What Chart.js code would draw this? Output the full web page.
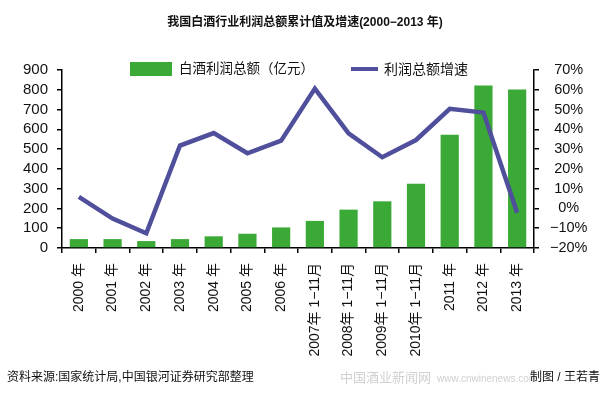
<!DOCTYPE html>
<html>
<head>
<meta charset="utf-8">
<script src="https://cdn.jsdelivr.net/npm/chart.js@4.4.1/dist/chart.umd.min.js"></script>
<style>
  html, body { margin: 0; padding: 0; background: #fff; }
  #wrap { position: relative; width: 600px; height: 398px; font-family: "Liberation Sans", "Noto Sans CJK SC", sans-serif; color: #111; }
  #chart { position: absolute; left: 0; top: 0; }
  .txt { position: absolute; white-space: nowrap; line-height: 1; }
  #title { left: 0; width: 610px; top: 16px; text-align: center; font-size: 12px; font-weight: bold; }
  .box { position: absolute; left: 130px; top: 62px; width: 42px; height: 14px; background: #3aa936; }
  .seg { position: absolute; left: 351px; top: 67px; width: 27px; height: 4px; background: #504f9c; }
  #lg1 { left: 179px; top: 62px; font-size: 13.5px; }
  #lg2 { left: 384px; top: 62px; font-size: 14px; }
  #src { left: 7px; top: 371px; font-size: 12px; }
  #author { left: 530px; top: 371px; font-size: 12px; }
  #mark { left: 340px; top: 371px; font-size: 13px; color: #d0d0d0; }
  #mark span { font-size: 10px; margin-left: 6px; }
</style>
</head>
<body>
<div id="wrap">
  <canvas id="chart" width="600" height="398"></canvas>
  <div class="txt" id="title">我国白酒行业利润总额累计值及增速(2000−2013 年)</div>
  <div class="box"></div>
  <div class="txt" id="lg1">白酒利润总额（亿元）</div>
  <div class="seg"></div>
  <div class="txt" id="lg2">利润总额增速</div>
  <div class="txt" id="mark">中国酒业新闻网<span>www.cnwinenews.com</span></div>
  <div class="txt" id="src">资料来源:国家统计局,中国银河证券研究部整理</div>
  <div class="txt" id="author">制图 / 王若青</div>
</div>
<script>
const categories = ['2000 年', '2001 年', '2002 年', '2003 年', '2004 年', '2005 年', '2006 年',
  '2007年 1−11月', '2008年 1−11月', '2009年 1−11月', '2010年 1−11月', '2011 年', '2012 年', '2013 年'];
// profit total, 100 million yuan
const profit = [45, 45, 35, 45, 59, 72, 104, 137, 194, 236, 325, 573, 821, 801];
// growth rate, %
const growth = [5.8, -5.1, -12.6, 31.8, 38.1, 27.9, 34.3, 60.6, 38, 25.9, 34.6, 50.4, 48.5, -2.2];

const leftTicks = { min: 0, max: 900, step: 100 };
const rightTicks = { min: -20, max: 70, step: 10 };

const numFont = '"Liberation Sans", "Noto Sans CJK SC", sans-serif';

function minus(v) {
  return v < 0 ? '−' + Math.abs(v) : String(v);
}

const ctx = document.getElementById('chart').getContext('2d');
new Chart(ctx, {
  data: {
    labels: categories,
    datasets: [
      {
        type: 'line',
        label: '利润总额增速',
        data: growth,
        yAxisID: 'y1',
        borderColor: '#504f9c',
        borderWidth: 4.5,
        pointRadius: 0,
        tension: 0,
        borderJoinStyle: 'miter',
        order: 0
      },
      {
        type: 'bar',
        label: '白酒利润总额（亿元）',
        data: profit,
        yAxisID: 'y',
        backgroundColor: '#3aa936',
        barPercentage: 0.54,
        categoryPercentage: 1,
        order: 1
      }
    ]
  },
  options: {
    responsive: false,
    animation: false,
    layout: { padding: { top: 70, left: 0, right: 0, bottom: 0 } },
    plugins: {
      legend: { display: false },
      title: { display: false },
      tooltip: { enabled: false }
    },
    scales: {
      x: {
        offset: true,
        afterFit: function(s) { s.height = 150; },
        grid: { drawOnChartArea: false, drawTicks: true, tickLength: 5, offset: true, color: '#000', lineWidth: 1.5 },
        border: { color: '#000', width: 1.5 },
        ticks: {
          minRotation: 90, maxRotation: 90, autoSkip: false, padding: 10,
          color: '#111', font: { family: numFont, size: 14 }
        }
      },
      y: {
        position: 'left',
        min: leftTicks.min, max: leftTicks.max,
        afterFit: function(s) { s.width = 62; },
        grid: { drawOnChartArea: false, drawTicks: true, tickLength: 5, color: '#000', lineWidth: 1.5 },
        border: { color: '#000', width: 1.5 },
        ticks: {
          stepSize: leftTicks.step, padding: 9, autoSkip: false,
          color: '#111', font: { family: numFont, size: 15 }
        }
      },
      y1: {
        position: 'right',
        min: rightTicks.min, max: rightTicks.max,
        afterFit: function(s) { s.width = 66; },
        grid: { drawOnChartArea: false, drawTicks: true, tickLength: 5, color: '#000', lineWidth: 1.5 },
        border: { color: '#000', width: 1.5 },
        ticks: {
          stepSize: rightTicks.step, padding: 11, crossAlign: 'center', autoSkip: false,
          color: '#111', font: { family: numFont, size: 14.5 },
          callback: function(v) { return minus(v) + '%'; }
        }
      }
    }
  }
});
</script>
</body>
</html>
